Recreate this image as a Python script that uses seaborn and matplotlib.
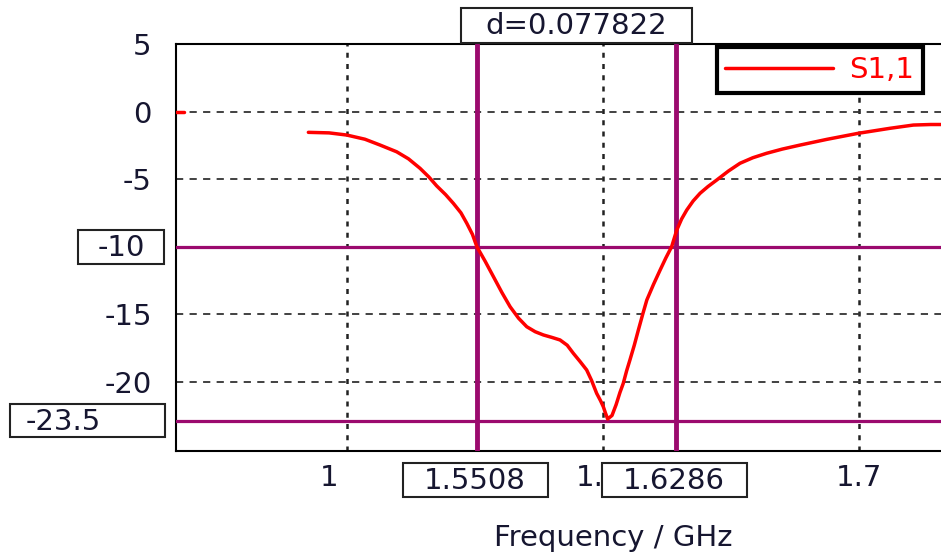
import numpy as np
import matplotlib
matplotlib.use("Agg")
import matplotlib.pyplot as plt
from matplotlib.patches import Rectangle
from matplotlib.transforms import IdentityTransform, ScaledTranslation
import seaborn as sns

# S1,1 trace (GHz, dB)
freq = [1.4849, 1.4930, 1.4999, 1.5070, 1.5129, 1.5194, 1.5240, 1.5285, 1.5320,
        1.5350, 1.5385, 1.5415, 1.5445, 1.5468, 1.5490, 1.5507, 1.5540, 1.5572,
        1.5605, 1.5637, 1.5670, 1.5702, 1.5735, 1.5767, 1.5800, 1.5832, 1.5860,
        1.5884, 1.5910, 1.5936, 1.5955, 1.5975, 1.5990, 1.6001, 1.6010, 1.6018,
        1.6035, 1.6051, 1.6066, 1.6079, 1.6092, 1.6105, 1.6122, 1.6138, 1.6155,
        1.6171, 1.6197, 1.6223, 1.6245, 1.6268, 1.6288, 1.6307, 1.6327, 1.6352,
        1.6379, 1.6410, 1.6444, 1.6490, 1.6535, 1.6585, 1.6639, 1.6700, 1.6770,
        1.6874, 1.6997, 1.7121, 1.7212, 1.7280, 1.7360]
s11 = [-1.54, -1.58, -1.74, -2.05, -2.48, -2.98, -3.50, -4.20, -4.85,
       -5.50, -6.15, -6.79, -7.50, -8.28, -9.10, -10.00, -11.10, -12.23,
       -13.40, -14.45, -15.30, -15.93, -16.30, -16.54, -16.72, -16.91, -17.30,
       -17.90, -18.50, -19.13, -19.90, -20.86, -21.40, -21.85, -22.35, -22.76,
       -22.50, -21.70, -20.80, -20.12, -19.20, -18.39, -17.30, -16.17, -15.00,
       -13.95, -12.80, -11.73, -10.85, -10.00, -8.77, -7.95, -7.29, -6.62,
       -6.05, -5.55, -5.07, -4.40, -3.83, -3.42, -3.09, -2.78, -2.48,
       -2.06, -1.61, -1.24, -1.00, -0.96, -0.96]
# stray red stub at 0 dB next to the y axis
stub_freq = [1.4332, 1.4364]
stub_s11 = [0.0, 0.0]

marker_x = [1.5508, 1.6286]
marker_x_labels = ["1.5508", "1.6286"]
marker_y = [-10.0, -22.9]
marker_y_labels = ["-10", "-23.5"]
delta_label = "d=0.077822"

yticks = [5, 0, -5, -10, -15, -20]
ytick_labels = ["5", "0", "-5", "", "-15", "-20"]
xticks = [1.5, 1.6, 1.7]
xtick_labels = ["1", "1.", "1.7"]

W, H = 941, 552
FS = 21
TXT = "#161630"
MARK = "#9b0a6e"

sns.set_style("white")
plt.rcParams["font.family"] = ["DejaVu Sans"]

fig = plt.figure(figsize=(W / 100, H / 100), dpi=100)
ax = fig.add_axes([176 / W, (H - 451) / H, (W - 176) / W, (451 - 44) / H])

sns.lineplot(x=freq, y=s11, ax=ax, color="red", lw=2.5, label="S1,1", zorder=4)
sns.lineplot(x=stub_freq, y=stub_s11, ax=ax, color="red", lw=2.5, zorder=4)

ax.set_xlim(1.4332, 1.732)
ax.set_ylim(-25.13, 5)

for yv in marker_y:
    ax.axhline(yv, color=MARK, lw=2.3, zorder=3)
for xv in marker_x:
    ax.axvline(xv, color=MARK, lw=3.5, zorder=3)

ax.set_yticks(yticks)
ax.set_yticklabels(ytick_labels)
ax.set_xticks(xticks)
ax.set_xticklabels(xtick_labels)
ax.tick_params(direction="inout", length=11, width=1.4, color="black",
               labelsize=FS, labelcolor=TXT)
ax.tick_params(axis="y", pad=12)
ax.tick_params(axis="x", pad=4)
# the 1.5 / 1.6 labels are cut off in the original, keep the left part only
for lab in ax.get_xticklabels()[:2]:
    lab.set_ha("left")
    lab.set_transform(lab.get_transform() + ScaledTranslation(-0.27, 0, fig.dpi_scale_trans))

ax.yaxis.grid(True, linestyle=(0, (4, 3.5)), color="#333333", lw=1.3)
ax.xaxis.grid(True, linestyle=(0, (2, 2.5)), color="#222222", lw=1.8)
ax.set_axisbelow(True)

for side in ["left", "bottom", "top"]:
    ax.spines[side].set_color("black")
    ax.spines[side].set_linewidth(1.5)
ax.spines["right"].set_visible(False)

ax.set_xlabel("Frequency / GHz", fontsize=FS, color=TXT)
ax.xaxis.set_label_coords((613 - 176) / (W - 176), -0.18)
ax.set_ylabel("")

leg = ax.legend(loc="upper right", bbox_to_anchor=(923 / W, 1 - 47 / H),
                bbox_transform=fig.transFigure, borderaxespad=0, fontsize=FS,
                handlelength=3.7, handletextpad=0.55, borderpad=0.3,
                fancybox=False, framealpha=1, edgecolor="black", labelcolor="red")
leg.get_frame().set_linewidth(3)
for line in leg.get_lines():
    line.set_linewidth(2.5)

fig.canvas.draw()


def boxed(cx, cy, w, h, text, tx=None, ha="center"):
    # cx, cy in display pixels (origin bottom left)
    fig.add_artist(Rectangle((cx - w / 2, cy - h / 2), w, h, transform=IdentityTransform(),
                             facecolor="white", edgecolor="#222222", lw=1.5, zorder=5))
    fig.text(cx if tx is None else tx, cy - 1, text, transform=IdentityTransform(),
             ha=ha, va="center", fontsize=FS, color=TXT, zorder=6)


spine_x = ax.transData.transform((1.4332, 0))[0]
# marker value boxes on the y axis
cy = ax.transData.transform((1.5, marker_y[0]))[1]
boxed(spine_x - 55, cy, 86, 34, marker_y_labels[0])
cy = ax.transData.transform((1.5, marker_y[1]))[1]
boxed(spine_x - 88.5, cy, 155, 33, marker_y_labels[1], tx=26, ha="left")
# marker value boxes under the x axis
for xv, lab in zip(marker_x, marker_x_labels):
    cx = ax.transData.transform((xv, 0))[0]
    boxed(cx - 2, H - 480, 145, 34, lab)
# distance box above the plot
cxs = [ax.transData.transform((xv, 0))[0] for xv in marker_x]
boxed(sum(cxs) / 2, H - 25.5, 231, 35, delta_label)

fig.savefig("out.png", dpi=100)
